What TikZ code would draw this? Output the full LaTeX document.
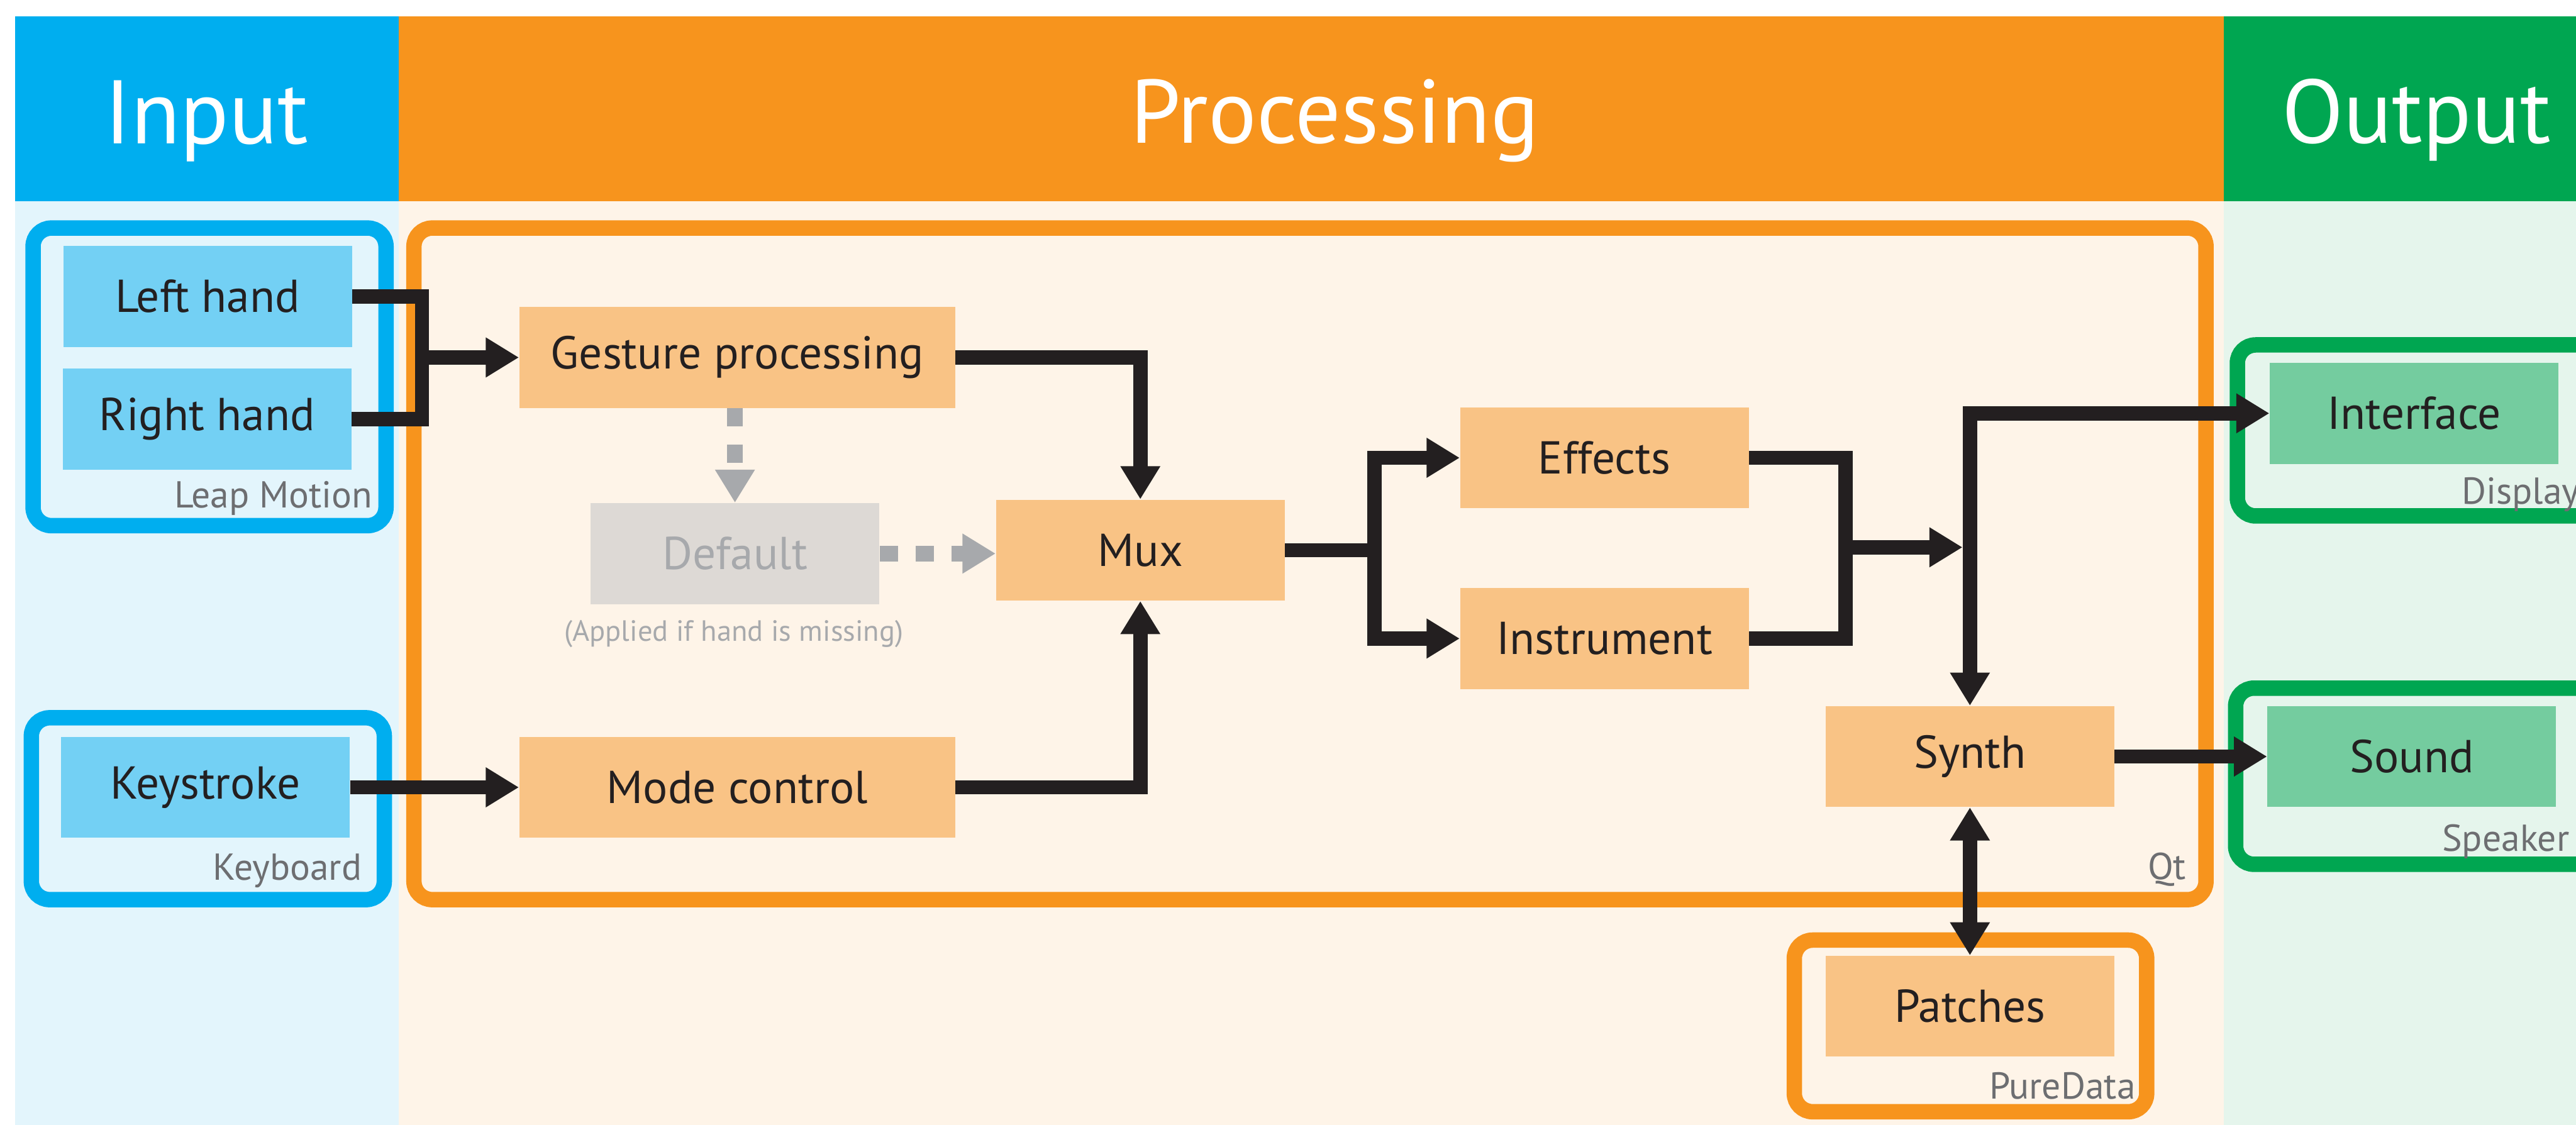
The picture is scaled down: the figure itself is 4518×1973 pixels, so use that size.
\documentclass[tikz,border=0pt]{standalone}
\usepackage{fontspec}
\setmainfont{PT Sans}
\usetikzlibrary{arrows.meta}

\definecolor{incyan}{HTML}{00AEEF}
\definecolor{inbg}{HTML}{E3F5FC}
\definecolor{infill}{HTML}{73D0F4}
\definecolor{prorange}{HTML}{F7941D}
\definecolor{prbg}{HTML}{FEF4E8}
\definecolor{prfill}{HTML}{F9C385}
\definecolor{outgreen}{HTML}{00A651}
\definecolor{outbg}{HTML}{E5F5EC}
\definecolor{outfill}{HTML}{74CC9F}
\definecolor{ink}{HTML}{231F20}
\definecolor{taggray}{HTML}{6D6E71}
\definecolor{ghostgray}{HTML}{A7A9AC}
\definecolor{ghostfill}{HTML}{DDD9D5}

\begin{document}
\begin{tikzpicture}[
                    x=0.01cm, y=-0.01cm,
                    every node/.style={inner sep=0pt},
                    head/.style={text=white, anchor=base, font=\fontsize{45}{54}\selectfont},
                    blk/.style={minimum width=5.06cm, minimum height=1.77cm, text=ink, font=\fontsize{23}{28}\selectfont},
                    wideblk/.style={blk, minimum width=7.64cm},
                    inbox/.style={blk, fill=infill},
                    prbox/.style={blk, fill=prfill},
                    outbox/.style={blk, fill=outfill},
                    grp/.style={line width=0.27cm, rounded corners=0.32cm},
                    tag/.style={text=taggray, anchor=base east, font=\fontsize{18.7}{22}\selectfont},
                    wire/.style={line width=0.25cm, draw=ink},
                    flow/.style={wire, -{Triangle[length=0.58cm,width=0.66cm]}},
                    flowboth/.style={wire, {Triangle[length=0.58cm,width=0.66cm]}-{Triangle[length=0.58cm,width=0.66cm]}},
                    ghost/.style={line width=0.27cm, draw=ghostgray, dash pattern=on 0.32cm off 0.31cm, -{Triangle[length=0.58cm,width=0.66cm]}}
                    ]
                    \useasboundingbox (0,0) rectangle (4518,1973);
                    \clip (0,0) rectangle (4518,1973);

                    % columns
                    \fill[inbg] (27,353) rectangle (699,1973);
                    \fill[prbg] (699,353) rectangle (3900,1973);
                    \fill[outbg] (3900,353) rectangle (4518,1973);
                    \fill[incyan] (27,29) rectangle (699,353);
                    \fill[prorange] (699,29) rectangle (3900,353);
                    \fill[outgreen] (3900,29) rectangle (4518,353);
                    \node[head] (hin) at (362,252) {Input};
                    \node[head] (hpr) at (2341,251) {Processing};
                    \node[head] (hout) at (4238,251) {Output};

                    % groups
                    \draw[grp, incyan] (58,400) rectangle (677,922);
                    \draw[grp, incyan] (55,1259) rectangle (674,1578);
                    \draw[grp, prorange] (726,400) rectangle (3869,1578);
                    \draw[grp, prorange] (3147,1649) rectangle (3765,1950);
                    \draw[grp, outgreen] (3924,605) rectangle (4620,905);
                    \draw[grp, outgreen] (3921,1207) rectangle (4620,1516);
                    \node[tag] (leap) at (654,891) {Leap Motion};
                    \node[tag] (kbd) at (635,1544) {Keyboard};
                    \node[tag] (qt) at (3835,1543) {Qt};
                    \node[tag] (pd) at (3746,1927) {PureData};
                    \node[tag, anchor=base west] (disp) at (4317,884) {Display};
                    \node[tag] (spk) at (4507,1493) {Speaker};

                    % blocks
                    \node[inbox] (lh) at (364,520) {Left hand};
                    \node[inbox] (rh) at (363,735) {Right hand};
                    \node[inbox] (ks) at (360,1381) {Keystroke};
                    \node[prbox, wideblk] (gp) at (1293,627) {Gesture processing};
                    \node[prbox, wideblk] (mc) at (1293,1381) {Mode control};
                    \node[blk, fill=ghostfill, text=ghostgray] (df) at (1289,971) {Default};
                    \node[text=ghostgray, anchor=base, font=\fontsize{14.6}{18}\selectfont] (dfnote) at (1287,1124) {(Applied if hand is missing)};
                    \node[prbox] (mux) at (2000,965) {Mux};
                    \node[prbox] (fx) at (2814,803) {Effects};
                    \node[prbox] (ins) at (2814,1120) {Instrument};
                    \node[prbox] (syn) at (3455,1327) {Synth};
                    \node[prbox] (pat) at (3455,1765) {Patches};
                    \node[outbox] (ifc) at (4234,725) {Interface};
                    \node[outbox] (snd) at (4230,1327) {Sound};

                    % connectors
                    \coordinate (j1) at (740,627);
                    \coordinate (j2) at (2411,965);
                    \coordinate (j3) at (3237,960);
                    \coordinate (j4) at (3442,960);
                    \draw[flow] (lh.east) -| (j1) -- (gp.west);
                    \draw[wire] (rh.east) -| (j1);
                    \draw[flow] (gp.east) -| (mux.north);
                    \draw[flow] (mc.east) -| (mux.south);
                    \draw[ghost] (df.north |- gp.south) -- (df.north);
                    \draw[ghost] (df.east) -- (df.east -| mux.west);
                    \draw[flow] (mux.east) -- (j2) |- (fx.west);
                    \draw[flow] (j2) |- (ins.west);
                    \draw[wire] (fx.east) -| (j3);
                    \draw[wire] (ins.east) -| (j3);
                    \draw[flow] (j3) -- (j4);
                    \draw[flowboth] (syn.north) |- (ifc.west);
                    \draw[flowboth] (syn.south) -- (pat.north);

                    \foreach \i/\j in {ks/mc, syn/snd}{
                        \draw[flow] (\i.east) -- (\j.west);
                    }
                \end{tikzpicture}
\end{document}
